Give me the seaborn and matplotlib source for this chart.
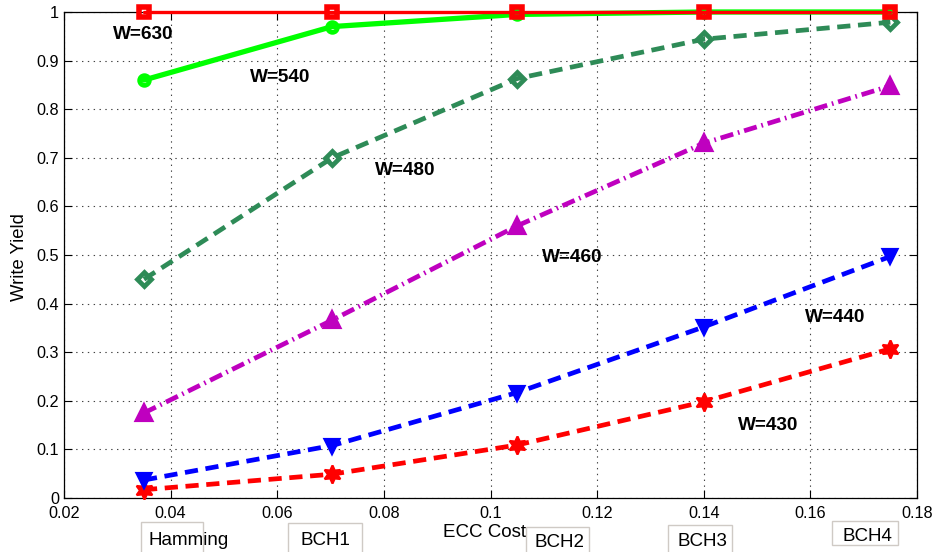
import matplotlib
matplotlib.use("Agg")
import matplotlib.pyplot as plt
from matplotlib.patches import Rectangle
from matplotlib.ticker import FuncFormatter, MultipleLocator
import seaborn as sns
import pandas as pd

# ECC cost of each code and the write yield at each write-pulse width
ecc_cost = [0.035, 0.0703, 0.105, 0.140, 0.175]
code_names = ["Hamming", "BCH1", "BCH2", "BCH3", "BCH4"]
yield_w630 = [1.0, 1.0, 1.0, 1.0, 1.0]
yield_w540 = [0.86, 0.97, 0.995, 1.0, 1.0]
yield_w480 = [0.45, 0.70, 0.863, 0.944, 0.979]
yield_w460 = [0.175, 0.366, 0.56, 0.73, 0.848]
yield_w440 = [0.037, 0.108, 0.217, 0.352, 0.497]
yield_w430 = [0.017, 0.049, 0.109, 0.198, 0.307]
series_names = ["W=430", "W=440", "W=460", "W=480", "W=540", "W=630"]
series_values = [yield_w430, yield_w440, yield_w460, yield_w480, yield_w540, yield_w630]

df = pd.DataFrame(
    [(name, x, y) for name, ys in zip(series_names, series_values) for x, y in zip(ecc_cost, ys)],
    columns=["series", "cost", "yield"],
)

sns.set_style("ticks")
plt.rcParams["font.family"] = ["Liberation Sans", "DejaVu Sans"]
plt.rcParams["lines.scale_dashes"] = False
plt.rcParams["text.color"] = "black"
plt.rcParams["axes.labelcolor"] = "black"

styles = {
    "W=430": dict(color="#ff0000", ls=(0, (9.5, 5.5)), marker=(6, 1, 0), ms=13, mew=1.6, mfc="#ff0000", lw=3.4),
    "W=440": dict(color="#0000ff", ls=(0, (9.5, 5.5)), marker="v", ms=9, mew=3.0, mfc="#0000ff", lw=3.4),
    "W=460": dict(color="#bf00bf", ls=(0, (9.5, 3.5, 1.2, 3.5)), marker="^", ms=10, mew=3.0, mfc="#bf00bf", lw=3.4),
    "W=480": dict(color="#2e8b57", ls=(0, (9.5, 5.5)), marker="D", ms=7, mew=3.4, mfc="none", lw=3.4),
    "W=540": dict(color="#00ff00", ls="-", marker="o", ms=7, mew=3.4, mfc="none", lw=3.8),
    "W=630": dict(color="#ff0000", ls="-", marker="s", ms=7, mew=4.0, mfc="none", lw=2.4),
}

fig = plt.figure(figsize=(9.35, 5.52), dpi=100)
W, H = 935.0, 552.0
ax = fig.add_axes([64 / W, 1 - 498 / H, (917 - 64) / W, (498 - 12) / H])

for name in series_names:
    st = styles[name]
    sub = df[df["series"] == name]
    sns.lineplot(
        data=sub, x="cost", y="yield", ax=ax, color=st["color"], linestyle=st["ls"],
        linewidth=st["lw"], marker=st["marker"], markersize=st["ms"],
        markeredgewidth=st["mew"], markeredgecolor=st["color"],
        markerfacecolor=st["mfc"], clip_on=False, legend=False, zorder=3,
    )

ax.set_xlim(0.02, 0.18)
ax.set_ylim(0, 1)
ax.xaxis.set_major_locator(MultipleLocator(0.02))
ax.yaxis.set_major_locator(MultipleLocator(0.1))
fmt = FuncFormatter(lambda v, p: "%g" % round(v, 4))
ax.xaxis.set_major_formatter(fmt)
ax.yaxis.set_major_formatter(fmt)
ax.set_xlabel("")
ax.set_ylabel("")
ax.tick_params(direction="in", length=5.5, width=0.8, top=True, right=True,
               labelsize=11.7, colors="black")
ax.tick_params(axis="x", pad=6)
ax.tick_params(axis="y", pad=3.5)
for sp in ax.spines.values():
    sp.set_color("black")
    sp.set_linewidth(0.9)
    sp.set_zorder(2.5)
ax.grid(True, linestyle=(0, (1, 3.2)), color="#444444", linewidth=0.8)

# curve labels
curve_labels = [
    ("W=630", 0.0349, 0.953),
    ("W=540", 0.0605, 0.866),
    ("W=480", 0.0840, 0.673),
    ("W=460", 0.1153, 0.494),
    ("W=440", 0.1646, 0.372),
    ("W=430", 0.1520, 0.150),
]
for txt, x, y in curve_labels:
    ax.text(x, y, txt, ha="center", va="center", fontsize=13.7, fontweight="bold", color="black")

# axis titles
fig.text(20 / W, 1 - 257 / H, "Write Yield", rotation=90, ha="center", va="center", fontsize=13.3)
fig.text(485 / W, 1 - 537 / H, "ECC Cost", ha="center", va="baseline", fontsize=13.5)

# boxed code names under the axis
name_boxes = [(141, 522, 203, 556), (288, 523, 362, 556), (526, 527, 589, 556),
              (668, 525, 732, 556), (832, 521, 898, 545)]
name_text = [(189, 545), (325, 545), (560, 547), (702, 546), (867, 541)]
for label, (l, t, r, b), (cx, by) in zip(code_names, name_boxes, name_text):
    fig.patches.append(Rectangle((l / W, 1 - b / H), (r - l) / W, (b - t) / H,
                                 transform=fig.transFigure, fill=False,
                                 edgecolor="#cfcac5", linewidth=1.0))
    fig.text(cx / W, 1 - by / H, label, ha="center", va="baseline", fontsize=13.5)

fig.savefig("out.png", dpi=100)
